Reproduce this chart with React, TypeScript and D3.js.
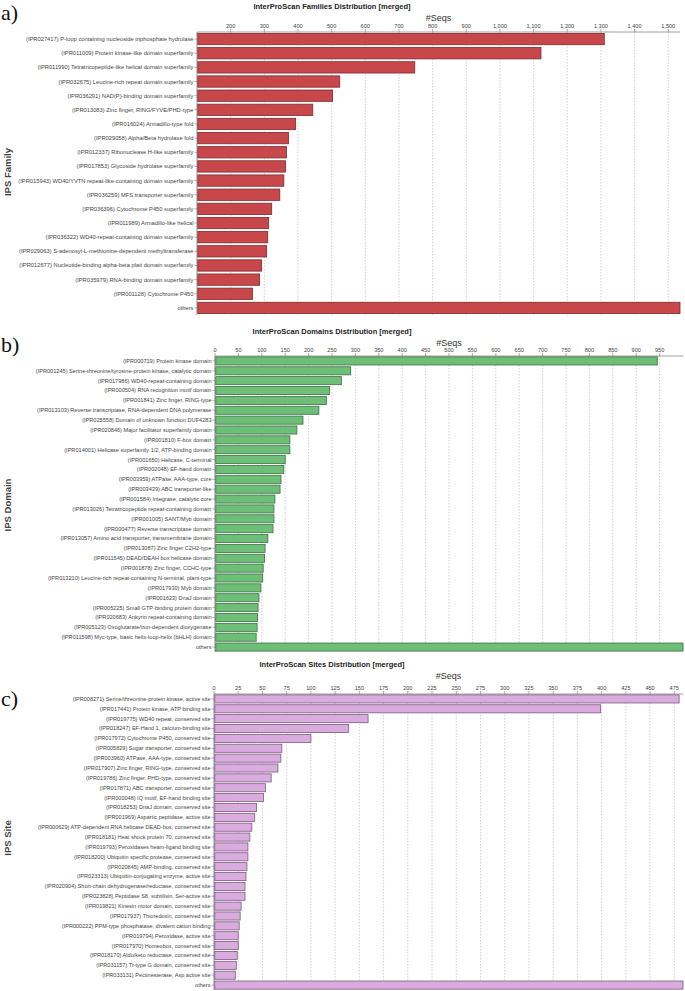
import React from "react";
import * as d3 from "d3";

const familyLabels = [
  "(IPR027417) P-loop containing nucleoside triphosphate hydrolase",
  "(IPR011009) Protein kinase-like domain superfamily",
  "(IPR011990) Tetratricopeptide-like helical domain superfamily",
  "(IPR032675) Leucine-rich repeat domain superfamily",
  "(IPR036291) NAD(P)-binding domain superfamily",
  "(IPR013083) Zinc finger, RING/FYVE/PHD-type",
  "(IPR016024) Armadillo-type fold",
  "(IPR029058) Alpha/Beta hydrolase fold",
  "(IPR012337) Ribonuclease H-like superfamily",
  "(IPR017853) Glycoside hydrolase superfamily",
  "(IPR015943) WD40/YVTN repeat-like-containing domain superfamily",
  "(IPR036259) MFS transporter superfamily",
  "(IPR036396) Cytochrome P450 superfamily",
  "(IPR011989) Armadillo-like helical",
  "(IPR036322) WD40-repeat-containing domain superfamily",
  "(IPR029063) S-adenosyl-L-methionine-dependent methyltransferase",
  "(IPR012677) Nucleotide-binding alpha-beta plait domain superfamily",
  "(IPR035979) RNA-binding domain superfamily",
  "(IPR001128) Cytochrome P450",
  "others",
];
const familyValues = [1310, 1122, 747, 524, 503, 444, 393, 372, 366, 363, 358, 346, 322, 313, 310, 307, 292, 286, 265, 1535];
const familyTicks = [200, 300, 400, 500, 600, 700, 800, 900, 1000, 1100, 1200, 1300, 1400, 1500];

const domainLabels = [
  "(IPR000719) Protein kinase domain",
  "(IPR001245) Serine-threonine/tyrosine-protein kinase, catalytic domain",
  "(IPR017986) WD40-repeat-containing domain",
  "(IPR000504) RNA recognition motif domain",
  "(IPR001841) Zinc finger, RING-type",
  "(IPR013103) Reverse transcriptase, RNA-dependent DNA polymerase",
  "(IPR025558) Domain of unknown function DUF4283",
  "(IPR020846) Major facilitator superfamily domain",
  "(IPR001810) F-box domain",
  "(IPR014001) Helicase superfamily 1/2, ATP-binding domain",
  "(IPR001650) Helicase, C-terminal",
  "(IPR002048) EF-hand domain",
  "(IPR003959) ATPase, AAA-type, core",
  "(IPR003439) ABC transporter-like",
  "(IPR001584) Integrase, catalytic core",
  "(IPR013026) Tetratricopeptide repeat-containing domain",
  "(IPR001005) SANT/Myb domain",
  "(IPR000477) Reverse transcriptase domain",
  "(IPR013057) Amino acid transporter, transmembrane domain",
  "(IPR013087) Zinc finger C2H2-type",
  "(IPR011545) DEAD/DEAH box helicase domain",
  "(IPR001878) Zinc finger, CCHC-type",
  "(IPR013210) Leucine-rich repeat-containing N-terminal, plant-type",
  "(IPR017930) Myb domain",
  "(IPR001623) DnaJ domain",
  "(IPR005225) Small GTP-binding protein domain",
  "(IPR020683) Ankyrin repeat-containing domain",
  "(IPR005123) Oxoglutarate/iron-dependent dioxygenase",
  "(IPR011598) Myc-type, basic helix-loop-helix (bHLH) domain",
  "others",
];
const domainValues = [945, 290, 270, 245, 238, 222, 188, 175, 160, 160, 150, 147, 141, 139, 128, 126, 126, 124, 113, 107, 106, 103, 102, 98, 94, 92, 91, 90, 88, 1000];
const domainTicks = [0, 50, 100, 150, 200, 250, 300, 350, 400, 450, 500, 550, 600, 650, 700, 750, 800, 850, 900, 950];

const siteLabels = [
  "(IPR008271) Serine/threonine-protein kinase, active site",
  "(IPR017441) Protein kinase, ATP binding site",
  "(IPR019775) WD40 repeat, conserved site",
  "(IPR018247) EF-Hand 1, calcium-binding site",
  "(IPR017972) Cytochrome P450, conserved site",
  "(IPR005829) Sugar transporter, conserved site",
  "(IPR003960) ATPase, AAA-type, conserved site",
  "(IPR017907) Zinc finger, RING-type, conserved site",
  "(IPR019786) Zinc finger, PHD-type, conserved site",
  "(IPR017871) ABC transporter, conserved site",
  "(IPR000048) IQ motif, EF-hand binding site",
  "(IPR018253) DnaJ domain, conserved site",
  "(IPR001969) Aspartic peptidase, active site",
  "(IPR000629) ATP-dependent RNA helicase DEAD-box, conserved site",
  "(IPR018181) Heat shock protein 70, conserved site",
  "(IPR019793) Peroxidases heam-ligand binding site",
  "(IPR018200) Ubiquitin specific protease, conserved site",
  "(IPR020845) AMP-binding, conserved site",
  "(IPR023313) Ubiquitin-conjugating enzyme, active site",
  "(IPR020904) Short-chain dehydrogenase/reductase, conserved site",
  "(IPR023828) Peptidase S8, subtilisin, Ser-active site",
  "(IPR019821) Kinesin motor domain, conserved site",
  "(IPR017937) Thioredoxin, conserved site",
  "(IPR000222) PPM-type phosphatase, divalent cation binding",
  "(IPR019794) Peroxidase, active site",
  "(IPR017970) Homeobox, conserved site",
  "(IPR018170) Aldo/keto reductase, conserved site",
  "(IPR031157) Tr-type G domain, conserved site",
  "(IPR033131) Pectinesterase, Asp active site",
  "others",
];
const siteValues = [480, 399, 159, 139, 100, 70, 69, 66, 59, 53, 51, 44, 42, 39, 37, 35, 35, 34, 33, 32, 32, 28, 27, 26, 25, 25, 24, 23, 22, 484];
const siteTicks = [0, 25, 50, 75, 100, 125, 150, 175, 200, 225, 250, 275, 300, 325, 350, 375, 400, 425, 450, 475];

const FONT = "'Liberation Sans', Arial, sans-serif";

type PanelProps = {
  letter: string;
  letterY: number;
  title: string;
  titleY: number;
  axisTitle: string;
  yTitle: string;
  yTitleY: number;
  labels: string[];
  values: number[];
  ticks: number[];
  domainMin: number;
  domainMax: number;
  left: number;
  right: number;
  top: number;
  bottom: number;
  padding: number;
  fill: string;
  stroke: string;
  fmt: (v: number) => string;
  labelSize: number;
};

function Panel(p: PanelProps) {
  const x = d3.scaleLinear().domain([p.domainMin, p.domainMax]).range([p.left, p.right]);
  const y = d3.scaleBand<string>().domain(p.labels).range([p.top, p.bottom]).paddingInner(p.padding).paddingOuter(p.padding / 2);
  return (
    <g>
      <text x={1} y={p.letterY} fontFamily="'Liberation Serif', 'DejaVu Serif', serif" fontSize={22} fill="#111">{p.letter}</text>
      <text x={332} y={p.titleY} textAnchor="middle" fontFamily={FONT} fontSize={7.5} fontWeight="bold" fill="#222">{p.title}</text>
      <text x={(p.left + p.right) / 2} y={p.titleY + 12} textAnchor="middle" fontFamily={FONT} fontSize={9} fill="#333">{p.axisTitle}</text>
      <text transform={`translate(11,${p.yTitleY}) rotate(-90)`} textAnchor="middle" fontFamily={FONT} fontSize={9.5} fontWeight="bold" fill="#444">{p.yTitle}</text>
      {p.ticks.map((t) => (
        <g key={t}>
          <line x1={x(t)} x2={x(t)} y1={p.top} y2={p.bottom} stroke="#bdbdbd" strokeWidth={0.7} strokeDasharray="1.5,1.5" />
          <line x1={x(t)} x2={x(t)} y1={p.top - 3} y2={p.top} stroke="#777" strokeWidth={0.6} />
          <text x={x(t)} y={p.top - 4.5} textAnchor="middle" fontFamily={FONT} fontSize={5.6} fill="#444">{p.fmt(t)}</text>
        </g>
      ))}
      <line x1={p.left} x2={p.right} y1={p.top} y2={p.top} stroke="#888" strokeWidth={0.8} />
      <line x1={p.left} x2={p.left} y1={p.top} y2={p.bottom} stroke="#777" strokeWidth={0.8} />
      {p.labels.map((l, i) => {
        const cy = (y(l) ?? 0) + y.bandwidth() / 2;
        const v = Math.min(p.values[i], p.domainMax);
        return (
          <g key={l}>
            <line x1={p.left - 2.5} x2={p.left} y1={cy} y2={cy} stroke="#777" strokeWidth={0.6} />
            <text x={p.left - 3.5} y={cy} dy="0.35em" textAnchor="end" fontFamily={FONT} fontSize={p.labelSize} fill="#444">{l}</text>
            <rect x={x(p.domainMin) + 0.8} y={y(l)} width={Math.max(0, x(v) - x(p.domainMin) - 0.8)} height={y.bandwidth()} fill={p.fill} stroke={p.stroke} strokeWidth={0.8} />
          </g>
        );
      })}
    </g>
  );
}

export default function App() {
  const comma = d3.format(",");
  const plain = d3.format("d");
  return (
    <svg width={685} height={991} style={{ position: "absolute", left: 0, top: 0, background: "#fff" }}>
      <rect width={685} height={991} fill="#fff" />
      <Panel letter="a)" letterY={20} title="InterProScan Families Distribution [merged]" titleY={9}
        axisTitle="#Seqs" yTitle="IPS Family" yTitleY={172}
        labels={familyLabels} values={familyValues} ticks={familyTicks}
        domainMin={100} domainMax={1535} left={197} right={680} top={32} bottom={315}
        padding={0.2} fill="#c8474b" stroke="#7d2a2c" fmt={comma} labelSize={5.75} />
      <Panel letter="b)" letterY={352} title="InterProScan Domains Distribution [merged]" titleY={334}
        axisTitle="#Seqs" yTitle="IPS Domain" yTitleY={505}
        labels={domainLabels} values={domainValues} ticks={domainTicks}
        domainMin={0} domainMax={1000} left={215} right={683} top={356} bottom={652}
        padding={0.18} fill="#6dbf78" stroke="#3f6f47" fmt={plain} labelSize={5.6} />
      <Panel letter="c)" letterY={706} title="InterProScan Sites Distribution [merged]" titleY={667}
        axisTitle="#Seqs" yTitle="IPS Site" yTitleY={838}
        labels={siteLabels} values={siteValues} ticks={siteTicks}
        domainMin={0} domainMax={484} left={214} right={683} top={694} bottom={990}
        padding={0.18} fill="#d9abdf" stroke="#7a5d7c" fmt={plain} labelSize={5.55} />
    </svg>
  );
}
